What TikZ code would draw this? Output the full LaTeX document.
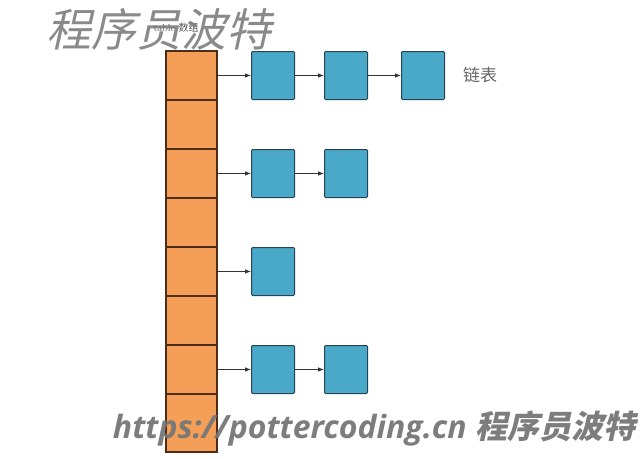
\documentclass[tikz,border=0pt]{standalone}
\usepackage{fontspec}
\newfontfamily\cjk{Noto Sans CJK SC}
\newfontfamily\cjkslant[FakeSlant=0.22]{Noto Sans CJK SC}
\newfontfamily\wmfont{Open Sans}
\usetikzlibrary{positioning}
\usetikzlibrary{arrows.meta}
\definecolor{cellfill}{RGB}{244,158,88}
\definecolor{celledge}{RGB}{75,45,25}
\definecolor{entryfill}{RGB}{74,168,200}
\definecolor{entryedge}{RGB}{40,68,82}
\definecolor{wmgray}{RGB}{118,118,118}

\begin{document}
\begin{tikzpicture}[x=1pt, y=-1pt,
    cellbox/.style={draw=celledge, fill=cellfill, line width=1.1pt, minimum width=51pt, minimum height=49pt, inner sep=0pt, outer sep=0pt},
    entrybox/.style={draw=entryedge, fill=entryfill, line width=1pt, rounded corners=1pt, minimum width=43pt, minimum height=48pt, inner sep=0pt},
    link/.style={-{Latex[length=6pt,width=4.5pt]}, line width=0.8pt, color=black!80}]

    \useasboundingbox (0,0) rectangle (642,458);

    % table column
    \node[cellbox] (c1) at (191.5,75.5) {};
    \foreach \i [remember=\i as \last (initially 1)] in {2,...,7}
        \node[cellbox, below=0pt of c\last] (c\i) {};
    \node[cellbox, minimum height=58pt, below=0pt of c7] (c8) {};

    \node[text=black!65] (title) at (176,28) {\fontsize{10}{10}\selectfont table {\cjk 数组}};

    % chains
    \node[entrybox, right=34pt of c1] (a1) {};
    \node[entrybox, right=29pt of a1] (a2) {};
    \node[entrybox, right=33pt of a2] (a3) {};
    \node[entrybox, right=34pt of c3] (b1) {};
    \node[entrybox, right=29pt of b1] (b2) {};
    \node[entrybox, right=34pt of c5] (d1) {};
    \node[entrybox, right=34pt of c7] (e1) {};
    \node[entrybox, right=29pt of e1] (e2) {};

    \draw[link] (c1) -- (a1);
    \draw[link] (a1) -- (a2);
    \draw[link] (a2) -- (a3);
    \draw[link] (c3) -- (b1);
    \draw[link] (b1) -- (b2);
    \draw[link] (c5) -- (d1);
    \draw[link] (c7) -- (e1);
    \draw[link] (e1) -- (e2);

    \node[right=18pt of a3, inner sep=0pt, text=black!60] (chain) {\cjk\fontsize{17}{17}\selectfont 链表};

    % watermarks
    \node[text=wmgray, opacity=0.85] (wmtop) at (159,29) {\cjkslant\fontsize{45}{45}\selectfont 程序员波特};
    \node[text=wmgray, opacity=0.95, inner sep=0pt] (wmbot) at (374,428) {\wmfont\bfseries\itshape\fontsize{32}{32}\selectfont https://pottercoding.cn {\cjkslant 程序员波特}};

\end{tikzpicture}
\end{document}
